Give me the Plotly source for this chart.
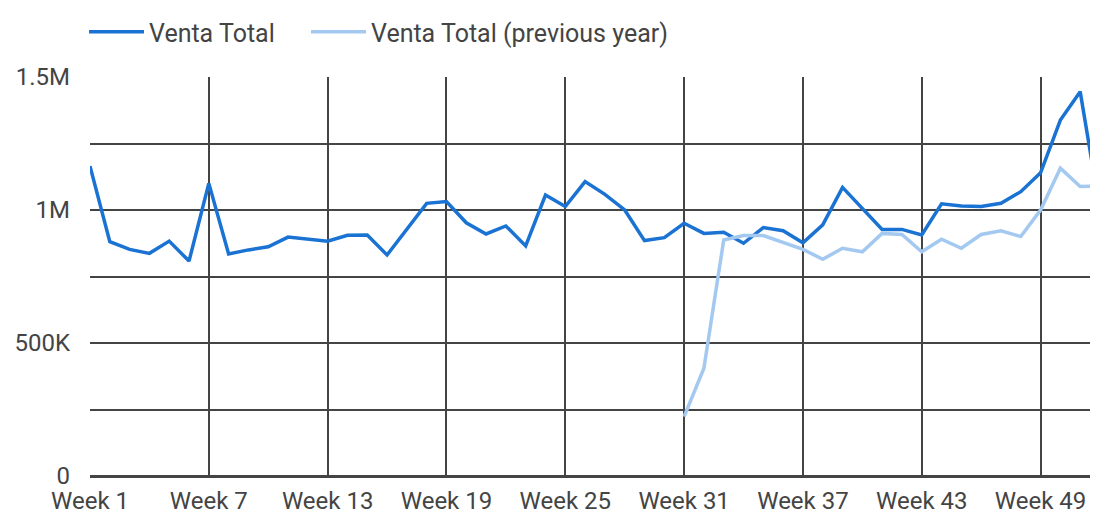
import plotly.graph_objects as go

weeks = [f"Week {i}" for i in range(1, 53)]

venta_total = [
    1165000, 881000, 852000, 837000, 883000, 808000, 1100000, 835000, 850000, 862000,
    898000, 892000, 883000, 905000, 906000, 831000, 927000, 1025000, 1032000, 952000,
    910000, 940000, 865000, 1056000, 1013000, 1107000, 1059000, 1000000, 885000, 896000,
    950000, 912000, 916000, 875000, 934000, 922000, 877000, 944000, 1085000, 1006000,
    927000, 927000, 906000, 1023000, 1015000, 1013000, 1025000, 1069000, 1140000, 1338000,
    1445000, 1000000,
]

prev_weeks = weeks[30:]
venta_prev = [
    223000, 405000, 887000, 904000, 904000, 877000, 852000, 815000, 856000, 843000,
    912000, 908000, 843000, 890000, 856000, 908000, 922000, 900000, 1000000, 1157000,
    1088000, 1091000,
]

tick_weeks = weeks[::6]
y_ticks = [0, 250000, 500000, 750000, 1000000, 1250000, 1500000]
y_labels = ["0", "", "500K", "", "1M", "", "1.5M"]

W, H = 1090, 510

fig = go.Figure()
fig.add_trace(go.Scatter(
    x=weeks, y=venta_total, mode="lines", name="Venta Total",
    line=dict(color="#1a73d3", width=3.5), legend="legend",
))
fig.add_trace(go.Scatter(
    x=prev_weeks, y=venta_prev, mode="lines", name="Venta Total (previous year)",
    line=dict(color="#a4c9f0", width=3.5), legend="legend2",
))

legend_common = dict(orientation="h", xanchor="left", xref="container",
                     y=1 - 24 / H, yanchor="middle", yref="container",
                     font=dict(size=25, color="#444444"),
                     itemwidth=55, bgcolor="rgba(0,0,0,0)")

fig.update_layout(
    width=W, height=H,
    margin=dict(l=82, r=0, t=69, b=42, autoexpand=False),
    paper_bgcolor="white", plot_bgcolor="white",
    font=dict(family="Roboto", size=24, color="#444444"),
    showlegend=True,
    legend=dict(x=76 / W, **legend_common),
    legend2=dict(x=298 / W, **legend_common),
    xaxis=dict(
        type="category", categoryorder="array", categoryarray=weeks,
        range=[0, 50.9], tickmode="array", tickvals=tick_weeks, ticktext=tick_weeks,
        showgrid=True, gridcolor="#444444", gridwidth=2,
        showline=False, zeroline=False, ticks="", ticklen=0,
        ticklabelstandoff=8, automargin=False,
        tickfont=dict(size=24, color="#444444"),
    ),
    yaxis=dict(
        range=[0, 1500000], tickmode="array", tickvals=y_ticks, ticktext=y_labels,
        showgrid=True, gridcolor="#444444", gridwidth=2,
        zeroline=True, zerolinecolor="#444444", zerolinewidth=3,
        showline=False, ticks="", ticklabelstandoff=19, automargin=False,
        tickfont=dict(size=24, color="#444444"),
    ),
)

fig.write_html("out.html")
